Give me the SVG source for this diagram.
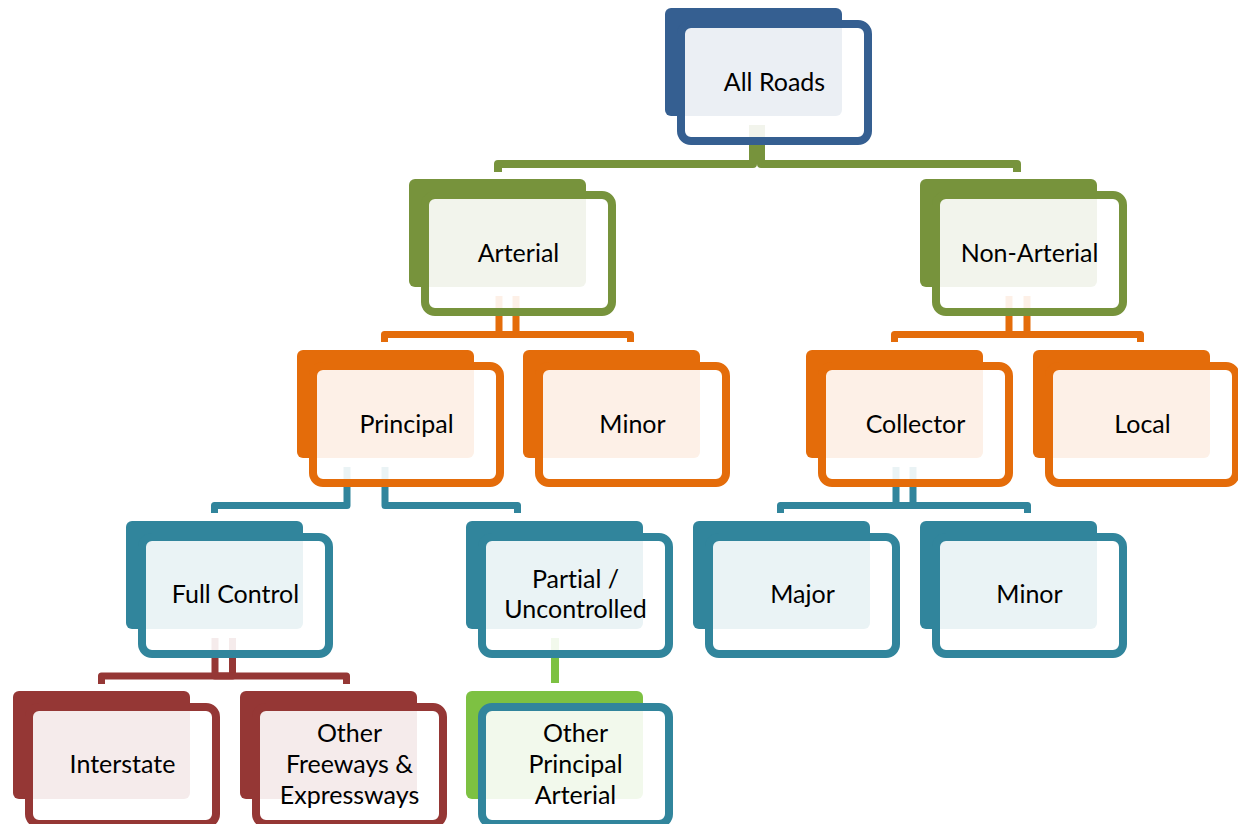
<svg xmlns="http://www.w3.org/2000/svg" width="1238" height="824" viewBox="0 0 1238 824">
<style>
.bk{stroke:none}
.ol{fill:#ffffff;fill-opacity:0.9;stroke-width:8}
.blue{fill:#355f91}.olive{fill:#77933c}.orange{fill:#e46c0a}.teal{fill:#31859c}.red{fill:#953735}.lime{fill:#7dc142}
.sblue{stroke:#355f91}.solive{stroke:#77933c}.sorange{stroke:#e46c0a}.steal{stroke:#31859c}.sred{stroke:#953735}
.c{fill:none;stroke-width:7;stroke-linejoin:round;stroke-linecap:butt}
.cg{stroke:#77933c;stroke-width:8}.co{stroke:#e46c0a}.ct{stroke:#31859c}.cr{stroke:#953735}.cl{stroke:#7dc142;stroke-width:8}
text{font-family:Lato,"Liberation Sans",sans-serif;font-size:25px;fill:#000;text-anchor:middle;font-variant-ligatures:none}
</style>
<rect width="1238" height="824" fill="#ffffff"/>
<g id="connectors">
<path class="c cg" d="M753,125 V164 H498 V172"/>
<path class="c cg" d="M761,125 V164 H1017 V172"/>
<path class="c co" d="M516,296 V334.5 H384.5 V342"/>
<path class="c co" d="M499,296 V334.5 H630.5 V342"/>
<path class="c co" d="M1027,296 V334.5 H894.5 V342"/>
<path class="c co" d="M1009,296 V334.5 H1140.5 V342"/>
<path class="c ct" d="M347,467 V505.5 H214.5 V513"/>
<path class="c ct" d="M385,467 V505.5 H517.5 V513"/>
<path class="c ct" d="M913,467 V505.5 H780.5 V513"/>
<path class="c ct" d="M896,467 V505.5 H1027.5 V513"/>
<path class="c cr" d="M232.5,638 V676 H101.5 V684"/>
<path class="c cr" d="M215,638 V676 H346.5 V684"/>
<path class="c cl" d="M555,638 V683"/>
</g>
<g id="all-roads">
<rect class="bk blue" x="665" y="8" width="177" height="108" rx="6"/>
<rect class="ol sblue" x="681" y="24" width="187" height="117" rx="10"/>
<text x="774.5" y="91">All Roads</text>
</g>
<g id="arterial">
<rect class="bk olive" x="409" y="179" width="177" height="108" rx="6"/>
<rect class="ol solive" x="425" y="195" width="187" height="117" rx="10"/>
<text x="518.5" y="262">Arterial</text>
</g>
<g id="non-arterial">
<rect class="bk olive" x="920" y="179" width="177" height="108" rx="6"/>
<rect class="ol solive" x="936" y="195" width="187" height="117" rx="10"/>
<text x="1029.5" y="262">Non-Arterial</text>
</g>
<g id="principal">
<rect class="bk orange" x="297" y="350" width="177" height="108" rx="6"/>
<rect class="ol sorange" x="313" y="366" width="187" height="117" rx="10"/>
<text x="406.5" y="433">Principal</text>
</g>
<g id="minor-arterial">
<rect class="bk orange" x="523" y="350" width="177" height="108" rx="6"/>
<rect class="ol sorange" x="539" y="366" width="187" height="117" rx="10"/>
<text x="632.5" y="433">Minor</text>
</g>
<g id="collector">
<rect class="bk orange" x="806" y="350" width="177" height="108" rx="6"/>
<rect class="ol sorange" x="822" y="366" width="187" height="117" rx="10"/>
<text x="915.5" y="433">Collector</text>
</g>
<g id="local">
<rect class="bk orange" x="1033" y="350" width="177" height="108" rx="6"/>
<rect class="ol sorange" x="1049" y="366" width="187" height="117" rx="10"/>
<text x="1142.5" y="433">Local</text>
</g>
<g id="full-control">
<rect class="bk teal" x="126" y="521" width="177" height="108" rx="6"/>
<rect class="ol steal" x="142" y="537" width="187" height="117" rx="10"/>
<text x="235.5" y="603">Full Control</text>
</g>
<g id="partial-uncontrolled">
<rect class="bk teal" x="466" y="521" width="177" height="108" rx="6"/>
<rect class="ol steal" x="482" y="537" width="187" height="117" rx="10"/>
<text x="575.5" y="588">Partial /</text>
<text x="575.5" y="618">Uncontrolled</text>
</g>
<g id="major">
<rect class="bk teal" x="693" y="521" width="177" height="108" rx="6"/>
<rect class="ol steal" x="709" y="537" width="187" height="117" rx="10"/>
<text x="802.5" y="603">Major</text>
</g>
<g id="minor-collector">
<rect class="bk teal" x="920" y="521" width="177" height="108" rx="6"/>
<rect class="ol steal" x="936" y="537" width="187" height="117" rx="10"/>
<text x="1029.5" y="603">Minor</text>
</g>
<g id="interstate">
<rect class="bk red" x="13" y="691" width="177" height="108" rx="6"/>
<rect class="ol sred" x="29" y="707" width="187" height="117" rx="10"/>
<text x="122.5" y="773">Interstate</text>
</g>
<g id="other-freeways">
<rect class="bk red" x="240" y="691" width="177" height="108" rx="6"/>
<rect class="ol sred" x="256" y="707" width="187" height="117" rx="10"/>
<text x="349.5" y="742">Other</text>
<text x="349.5" y="773">Freeways &amp;</text>
<text x="349.5" y="804">Expressways</text>
</g>
<g id="other-principal-arterial">
<rect class="bk lime" x="466" y="691" width="177" height="108" rx="6"/>
<rect class="ol steal" x="482" y="707" width="187" height="117" rx="10"/>
<text x="575.5" y="742">Other</text>
<text x="575.5" y="773">Principal</text>
<text x="575.5" y="804">Arterial</text>
</g>
</svg>
